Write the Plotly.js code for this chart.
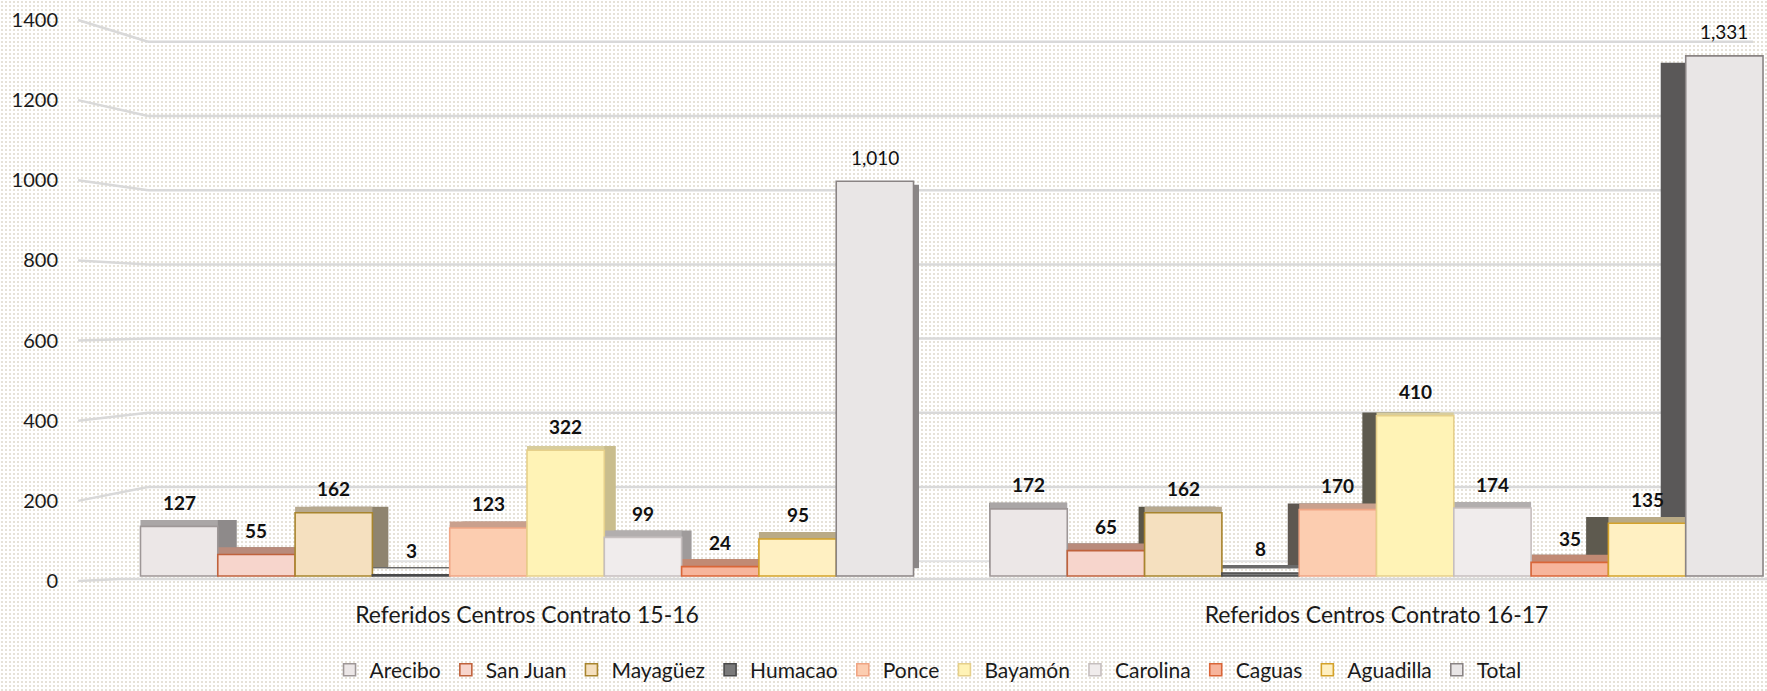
<!DOCTYPE html>
<html>
<head>
<meta charset="utf-8">
<script src="https://cdn.plot.ly/plotly-3.0.1.min.js"></script>
<style>
  html, body { margin:0; padding:0; }
  body {
    width:1767px; height:691px; overflow:hidden;
    background-color:#ffffff;
    background-image: radial-gradient(#e6e2d8 0.9px, transparent 1.1px);
    background-size: 4px 4px;
  }
  #chart { width:1767px; height:691px; }
</style>
</head>
<body>
<div id="chart"></div>
<script>
// ---------------- data ----------------
const categories = ["Referidos Centros Contrato 15-16", "Referidos Centros Contrato 16-17"];
const seriesNames = ["Arecibo", "San Juan", "Mayagüez", "Humacao", "Ponce", "Bayamón", "Carolina", "Caguas", "Aguadilla", "Total"];
const arecibo   = [127, 172];
const sanJuan   = [55, 65];
const mayaguez  = [162, 162];
const humacao   = [3, 8];
const ponce     = [123, 170];
const bayamon   = [322, 410];
const carolina  = [99, 174];
const caguas    = [24, 35];
const aguadilla = [95, 135];
const total     = [1010, 1331];
const yTickVals = [0, 200, 400, 600, 800, 1000, 1200, 1400];

const seriesValues = [arecibo, sanJuan, mayaguez, humacao, ponce, bayamon, carolina, caguas, aguadilla, total];

// ---------------- styles ----------------
const frontColors  = ["#ece7e7", "#f7d5cc", "#f5e0bf", "#7a7a7a", "#fccdb0", "#fff3b6", "#f0ecec", "#f7b59c", "#fff0c2", "#e9e6e6"];
const borderColors = ["#9e9797", "#c0623c", "#a8852e", "#4a4a4a", "#f0a584", "#e6d08a", "#c6bfbf", "#da6638", "#d4a22a", "#8a8484"];
const topColors    = ["#aaa6a6", "#b98b7b", "#b7a98f", "#6a6a6a", "#c9a08d", "#d8cd9c", "#b2aeae", "#c18a74", "#b9aa86", "#b0acac"];
const sideLeftGrp  = ["#8e8a8a", "#9a7a6c", "#8f846f", "#555555", "#a89080", "#c9bd8d", "#9f9b9b", "#a07060", "#a39272", "#8a8686"];
const sideRightGrp = ["#5c5858", "#5e5550", "#5a5648", "#4e4e4e", "#5e5750", "#5d5a4e", "#5c5858", "#5e5550", "#5e5a4f", "#5a5858"];

const FONT = "Lato, 'Open Sans', sans-serif";

// geometry of the (pseudo 3D) layout
const L = 130, T = 20, B = 104, W = 1767, H = 691;
const plotW = W - L, plotH = H - T - B;          // 1637 x 567
const PXU = 849.5;                                // px per category
const CAT0 = 527;                                 // px of first category centre
const xr0 = -(CAT0 - L) / PXU;
const xRange = [xr0, xr0 + plotW / PXU];
const BW = 0.091, START = -5 * BW;

// front face scale (bars) : value 0 at 582px, 0.395 px/unit
const frontBase = 582, frontK = 0.395;
const frontRange = [-(T + plotH - frontBase) / frontK, (frontBase - T) / frontK];
// back face scale of bars (depth) : 0 at 574px, 0.3837 px/unit
const depthBase = 574, depthK = 0.3837;
const depthRange = [-(T + plotH - depthBase) / depthK, (depthBase - T) / depthK];
// back wall grid : 0 at 567px, 0.375 px/unit
const wallBase = 567, wallK = 0.375;

function sideShift(ci, i) {
  const c = ci + START + (i + 0.5) * BW;
  return ci === 0 ? 0.0194 * (0.7416 - c) : -0.0351 * (c - 0.571);
}

const traces = [];
// empty trace that anchors the label axis (y)
traces.push({ type: 'scatter', mode: 'markers', x: [categories[0]], y: [null], yaxis: 'y',
              showlegend: false, hoverinfo: 'skip', marker: { opacity: 0 } });
// side faces
seriesValues.forEach((vals, i) => {
  traces.push({
    type: 'bar', x: categories, y: vals, yaxis: 'y2',
    offset: categories.map((_, ci) => START + i * BW + sideShift(ci, i)),
    width: BW,
    marker: { color: [sideLeftGrp[i], sideRightGrp[i]], line: { width: 0 } },
    showlegend: false, hoverinfo: 'skip'
  });
});
// top faces
seriesValues.forEach((vals, i) => {
  traces.push({
    type: 'bar', x: categories, y: vals, yaxis: 'y2',
    offset: START + i * BW, width: BW,
    marker: { color: topColors[i], line: { width: 0 } },
    showlegend: false, hoverinfo: 'skip'
  });
});
// front faces
seriesValues.forEach((vals, i) => {
  traces.push({
    type: 'bar', x: categories, y: vals, yaxis: 'y3', name: seriesNames[i],
    offset: START + i * BW, width: BW,
    marker: { color: frontColors[i], line: { color: borderColors[i], width: 1.6 } }
  });
});

// value labels
const annotations = [];
seriesValues.forEach((vals, i) => {
  vals.forEach((v, ci) => {
    const txt = v.toLocaleString('en-US');
    annotations.push({
      xref: 'x', yref: 'y3', x: ci + START + (i + 0.5) * BW, y: v,
      yshift: 24, yanchor: 'middle', showarrow: false,
      text: seriesNames[i] === 'Total' ? txt : '<b>' + txt + '</b>',
      font: { family: FONT, size: 19, color: '#111111' }
    });
  });
});

// back-wall gridlines with perspective slant from the label
const shapes = [];
const GRID = { color: '#d9d9d9', width: 2.5 };
const xLab = (78 - L) / plotW, xBack = (148 - L) / plotW, xEnd = (1753 - L) / plotW;
const toPaperY = px => (T + plotH - px) / plotH;
yTickVals.forEach(v => {
  const yLab = v / 1400;
  const yBack = toPaperY(wallBase - wallK * v);
  if (v === 0) {
    // floor: front edge joins the 0 label, back edge behind the bars
    const yFloor = toPaperY(585);
    shapes.push({ type: 'line', xref: 'paper', yref: 'paper', x0: xLab, y0: yLab, x1: (120 - L) / plotW, y1: yFloor,
                  line: GRID, layer: 'below' });
    shapes.push({ type: 'line', xref: 'paper', yref: 'paper', x0: (120 - L) / plotW, y0: yFloor, x1: 1, y1: yFloor,
                  line: GRID, layer: 'below' });
    shapes.push({ type: 'line', xref: 'paper', yref: 'paper', x0: xBack, y0: yBack, x1: xEnd, y1: yBack,
                  line: { color: '#e2e2e2', width: 2 }, layer: 'below' });
    return;
  }
  shapes.push({ type: 'line', xref: 'paper', yref: 'paper', x0: xLab, y0: yLab, x1: xBack, y1: yBack,
                line: GRID, layer: 'below' });
  shapes.push({ type: 'line', xref: 'paper', yref: 'paper', x0: xBack, y0: yBack, x1: xEnd, y1: yBack,
                line: GRID, layer: 'below' });
});

const layout = {
  width: W, height: H,
  margin: { l: L, r: 0, t: T, b: B, pad: 0 },
  paper_bgcolor: 'rgba(0,0,0,0)', plot_bgcolor: 'rgba(0,0,0,0)',
  font: { family: FONT, size: 18, color: '#1a1a1a' },
  barmode: 'overlay',
  showlegend: true,
  xaxis: {
    type: 'category', range: xRange, showgrid: false, zeroline: false, showline: false,
    ticks: '', ticklabelstandoff: 18, tickfont: { family: FONT, size: 23, color: '#1a1a1a' }
  },
  yaxis: {
    range: [0, 1400], tickmode: 'array', tickvals: yTickVals, ticktext: yTickVals.map(String),
    showgrid: false, zeroline: false, showline: false, ticks: '', showticklabels: true,
    ticklabelstandoff: 71, tickfont: { family: FONT, size: 20, color: '#1a1a1a' }
  },
  yaxis2: { overlaying: 'y', range: depthRange, showgrid: false, zeroline: false, showline: false, showticklabels: false, ticks: '' },
  yaxis3: { overlaying: 'y', range: frontRange, showgrid: false, zeroline: false, showline: false, showticklabels: false, ticks: '' },
  legend: {
    orientation: 'h', x: 0.4875, xanchor: 'center', y: toPaperY(677), yanchor: 'middle',
    itemwidth: 30,
    font: { family: FONT, size: 21, color: '#1a1a1a' }, bgcolor: 'rgba(0,0,0,0)', traceorder: 'normal'
  },
  annotations: annotations,
  shapes: shapes
};

Plotly.newPlot('chart', traces, layout, { staticPlot: true, displayModeBar: false });
</script>
</body>
</html>
